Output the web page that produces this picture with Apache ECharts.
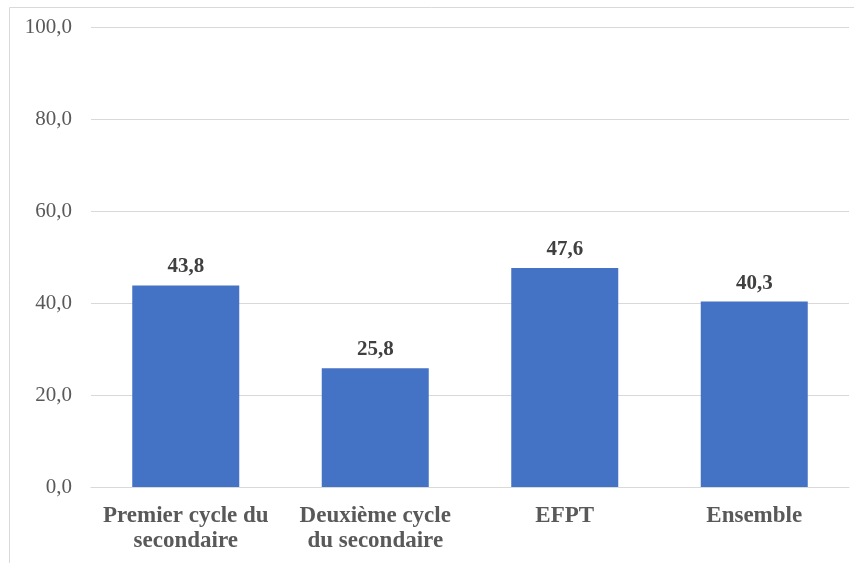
<!DOCTYPE html>
<html>
<head>
<meta charset="utf-8">
<script src="https://cdn.jsdelivr.net/npm/echarts@6/dist/echarts.min.js"></script>
<style>
  html, body { margin: 0; padding: 0; background: #fff; }
  #chart { width: 854px; height: 563px; }
</style>
</head>
<body>
<div id="chart"></div>
<script>
const categories = ['Premier cycle du\nsecondaire', 'Deuxième cycle\ndu secondaire', 'EFPT', 'Ensemble']
const values = [43.8, 25.8, 47.6, 40.3]
const yTicks = [0, 20, 40, 60, 80, 100]

const fmt = (v) => v.toFixed(1).replace('.', ',')

const chart = echarts.init(document.getElementById('chart'))

const option = {
  backgroundColor: '#fff',
  animation: false,
  graphic: [
    {
      type: 'polyline',
      shape: { points: [[9.5, 563], [9.5, 7.5], [854, 7.5]] },
      style: { stroke: '#d9d9d9', lineWidth: 1, fill: null },
    },
  ],
  grid: { left: 91, right: 5, top: 27, bottom: 76 },
  xAxis: {
    type: 'category',
    data: categories,
    axisLine: { lineStyle: { color: '#d9d9d9', width: 1 } },
    axisTick: { show: false },
    axisLabel: {
      interval: 0,
      margin: 17,
      color: '#595959',
      fontFamily: 'Liberation Serif',
      fontWeight: 'bold',
      fontSize: 23,
      lineHeight: 25,
    },
  },
  yAxis: {
    type: 'value',
    min: yTicks[0],
    max: yTicks[yTicks.length - 1],
    interval: 20,
    axisLine: { show: false },
    axisTick: { show: false },
    splitLine: { lineStyle: { color: '#d9d9d9', width: 1 } },
    axisLabel: {
      margin: 19,
      color: '#595959',
      fontFamily: 'Liberation Serif',
      fontSize: 21,
      formatter: (v) => fmt(v),
    },
  },
  series: [
    {
      type: 'bar',
      data: values,
      barWidth: 107,
      itemStyle: { color: '#4472C4' },
      label: {
        show: true,
        position: 'top',
        distance: 8,
        color: '#404040',
        fontFamily: 'Liberation Serif',
        fontWeight: 'bold',
        fontSize: 21,
        formatter: (p) => fmt(p.value),
      },
    },
  ],
}

chart.setOption(option)
</script>
</body>
</html>
